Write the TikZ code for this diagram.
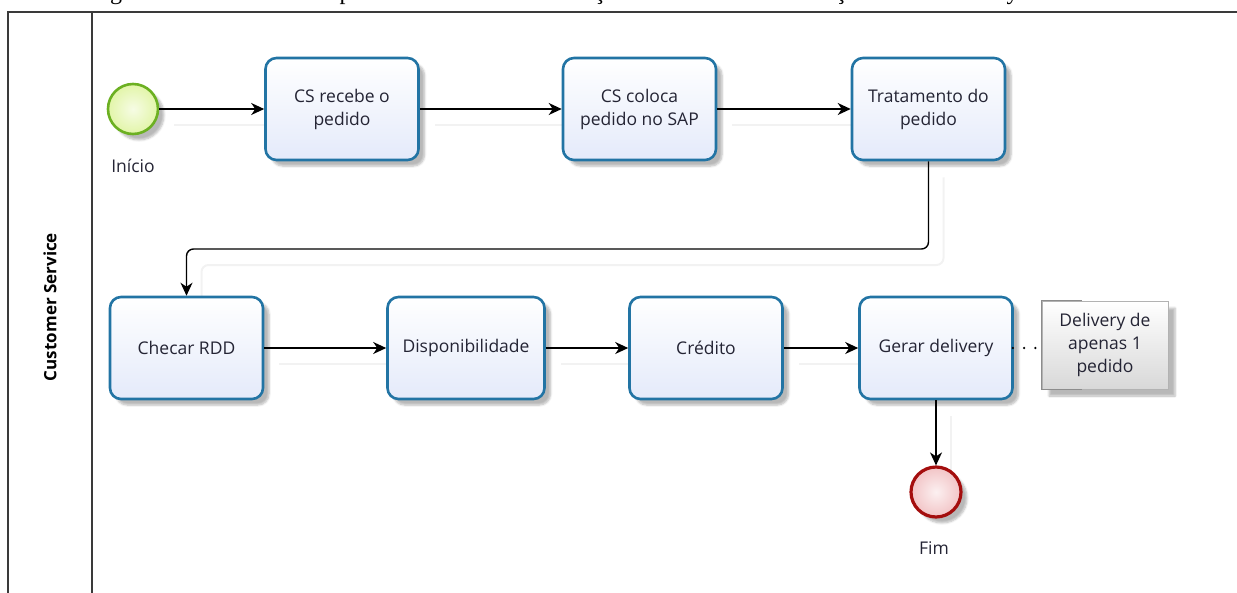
\documentclass[tikz,border=0pt]{standalone}
\usepackage{fontspec}
\setmainfont{Open Sans}
\newfontfamily\capfont{Liberation Serif}
\usetikzlibrary{arrows.meta,shadows.blur,backgrounds}

\definecolor{taskline}{RGB}{34,116,164}
\definecolor{taskfill}{RGB}{228,234,250}
\definecolor{startline}{RGB}{108,176,34}
\definecolor{startfill}{RGB}{226,245,168}
\definecolor{endline}{RGB}{164,14,14}
\definecolor{endfill}{RGB}{242,196,198}
\definecolor{notefill}{RGB}{216,216,216}
\definecolor{txt}{RGB}{36,36,52}
\definecolor{frameline}{RGB}{58,58,58}

\tikzset{
  lbl/.style={font=\fontsize{17.5}{23}\selectfont, text=txt, align=center},
  task/.style={lbl, draw=taskline, line width=2.6pt, rounded corners=11pt,
    minimum width=153pt, minimum height=102pt,
    top color=white, bottom color=taskfill,
    blur shadow={shadow xshift=6pt, shadow yshift=-6pt, shadow blur steps=6, shadow opacity=28}},
  startev/.style={circle, draw=startline, line width=2.6pt, minimum size=50pt,
    inner color=white!70!startfill, outer color=startfill,
    blur shadow={shadow xshift=6pt, shadow yshift=-6pt, shadow blur steps=6, shadow opacity=28}},
  endev/.style={circle, draw=endline, line width=3.2pt, minimum size=50pt,
    inner color=white!75!endfill, outer color=endfill,
    blur shadow={shadow xshift=6pt, shadow yshift=-6pt, shadow blur steps=6, shadow opacity=28}},
  notebox/.style={lbl, draw=black!30, line width=0.8pt,
    minimum width=126pt, minimum height=88pt,
    top color=white, bottom color=notefill,
    blur shadow={shadow xshift=7pt, shadow yshift=-7pt, shadow blur steps=6, shadow opacity=28}},
  flow/.style={line width=1.4pt, black, rounded corners=7pt,
    -{Stealth[length=13pt, width=12pt, inset=4pt]}},
  flowshadow/.style={line width=2pt, black!5, rounded corners=7pt,
    transform canvas={xshift=15pt, yshift=-16pt}},
  assoc/.style={line width=2.6pt, black, line cap=round, dash pattern=on 0pt off 11.3pt},
  frame/.style={line width=1.8pt, frameline},
  evlabel/.style={lbl}
}

\begin{document}
\begin{tikzpicture}[x=1pt, y=-1pt]
\useasboundingbox (0,0) rectangle (1237,592);

% caption above the pool (only its descenders reach into the picture)
\node[anchor=base west, inner sep=0pt, font=\capfont\fontsize{24}{28}\selectfont]
  (caption) at (90,-1) {Figura 5 – Fluxo atual do processo de emissão e criação das remessas e liberação de um delivery};

% pool and lane frame
\draw[frame] (8,600) -- (8,12) -- (1245,12);
\draw[frame] (92,12) -- (92,600);
\node[rotate=90, font=\bfseries\fontsize{17}{20}\selectfont, text=black] (lane) at (50,307) {Customer Service};

% events
\node[startev] (start) at (133,109) {};
\node[evlabel] (startlbl) at (133,166) {Início};
\node[endev] (end) at (936,492) {};
\node[evlabel] (endlbl) at (934,548) {Fim};

% tasks
\node[task] (recebe) at (342,109) {CS recebe o\\pedido};
\node[task] (coloca) at (639.5,109) {CS coloca\\pedido no SAP};
\node[task] (trat) at (928.5,109) {Tratamento do\\pedido};
\node[task] (rdd) at (186.5,348) {Checar RDD};
\node[task, minimum width=157pt] (disp) at (466,348) {Disponibilidade};
\node[task] (cred) at (706,348) {Crédito};
\node[task] (gerar) at (936,348) {Gerar delivery};

% annotation
\node[notebox] (note) at (1105,345) {Delivery de\\apenas 1\\pedido};
\draw[line width=1.6pt, black!45] ([xshift=40pt]note.north west) -- (note.north west)
  -- (note.south west) -- ([xshift=40pt]note.south west);

% faint connector shadows
\begin{scope}[on background layer]
  \draw[flowshadow] (start.east) -- (recebe.west);
  \draw[flowshadow] (recebe.east) -- (coloca.west);
  \draw[flowshadow] (coloca.east) -- (trat.west);
  \draw[flowshadow] (trat.south) |- (600,249) -| (rdd.north);
  \draw[flowshadow] (rdd.east) -- (disp.west);
  \draw[flowshadow] (disp.east) -- (cred.west);
  \draw[flowshadow] (cred.east) -- (gerar.west);
  \draw[flowshadow] (gerar.south) -- (end.north);
\end{scope}

% sequence flows
\draw[flow] (start.east) -- (recebe.west);
\draw[flow] (recebe.east) -- (coloca.west);
\draw[flow] (coloca.east) -- (trat.west);
\draw[flow] (trat.south) |- (600,249) -| (rdd.north);
\draw[flow] (rdd.east) -- (disp.west);
\draw[flow] (disp.east) -- (cred.west);
\draw[flow] (cred.east) -- (gerar.west);
\draw[flow] (gerar.south) -- (end.north);

% association to the annotation
\draw[assoc] ([xshift=-1pt]gerar.east) -- ([xshift=-3pt]note.west |- gerar.east);
\end{tikzpicture}
\end{document}
